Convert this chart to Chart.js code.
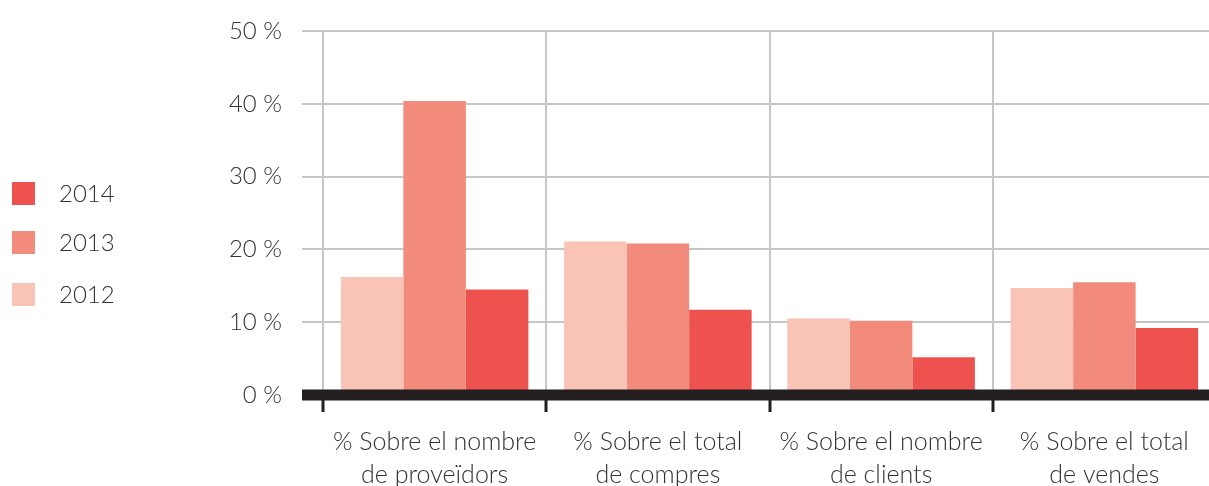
<!DOCTYPE html>
<html>
<head>
<meta charset="utf-8">
<script src="https://cdn.jsdelivr.net/npm/chart.js@4"></script>
<style>
  html, body { margin: 0; padding: 0; background: #fff; overflow: hidden; }
  #wrap { position: relative; width: 1230px; height: 486px; }
  #legend { position: absolute; left: 12px; top: 0; font-family: Lato, "Open Sans", sans-serif; font-weight: 300; font-size: 24px; color: #333; }
  .li { position: absolute; left: 0; height: 23px; white-space: nowrap; }
  .sw { position: absolute; left: 0; top: 0; width: 23px; height: 23px; }
  .lt { position: absolute; left: 47px; top: -3px; line-height: 28px; }
</style>
</head>
<body>
<div id="wrap">
  <canvas id="c" width="1230" height="486"></canvas>
  <div id="legend"></div>
</div>
<script>
const categories = [
  ["% Sobre el nombre", "de proveïdors"],
  ["% Sobre el total", "de compres"],
  ["% Sobre el nombre", "de clients"],
  ["% Sobre el total", "de vendes"]
];
const seriesNames = ["2012", "2013", "2014"];
const values2012 = [16.2, 21.1, 10.5, 14.7];
const values2013 = [40.4, 20.8, 10.2, 15.5];
const values2014 = [14.5, 11.7, 5.2, 9.2];
const yTicks = [0, 10, 20, 30, 40, 50];
const colors = ["#f9c3b5", "#f28b7b", "#ee524f"];

const seriesValues = [values2012, values2013, values2014];
const FONT = 'Lato, "Open Sans", sans-serif';

// HTML legend (reversed order: 2014, 2013, 2012)
const legendTops = [182, 231, 283];
const legend = document.getElementById('legend');
[2, 1, 0].forEach((idx, i) => {
  const li = document.createElement('div');
  li.className = 'li';
  li.style.top = legendTops[i] + 'px';
  li.innerHTML = '<div class="sw" style="background:' + colors[idx] + '"></div><div class="lt">' + seriesNames[idx] + '</div>';
  legend.appendChild(li);
});

const baseline = {
  id: 'baseline',
  afterDatasetsDraw(chart) {
    const ctx = chart.ctx;
    const y = chart.scales.y.getPixelForValue(0);
    ctx.save();
    ctx.fillStyle = '#231f20';
    ctx.fillRect(302, y - 5.5, chart.width - 302, 11);
    ctx.restore();
  }
};

new Chart(document.getElementById('c'), {
  type: 'bar',
  data: {
    labels: categories,
    datasets: seriesNames.map((n, i) => ({
      label: n,
      data: seriesValues[i],
      backgroundColor: colors[i],
      borderWidth: 0,
      categoryPercentage: 0.84,
      barPercentage: 1.0
    }))
  },
  options: {
    responsive: false,
    animation: false,
    layout: { padding: { left: 0, right: 14, top: 31, bottom: 0 } },
    plugins: { legend: { display: false }, tooltip: { enabled: false } },
    scales: {
      x: {
        offset: true,
        grid: {
          offset: true,
          color: '#c6c6c6',
          lineWidth: 2,
          tickLength: 17,
          tickColor: '#231f20',
          tickWidth: 3,
          drawOnChartArea: true
        },
        border: { display: false },
        ticks: {
          color: '#333',
          font: { family: FONT, size: 25, weight: 300, lineHeight: 1.3 },
          padding: 14,
          maxRotation: 0,
          autoSkip: false
        },
        afterFit(scale) { scale.height = 91; }
      },
      y: {
        min: 0,
        max: 50,
        afterBuildTicks(scale) { scale.ticks = yTicks.map(v => ({ value: v })); },
        grid: {
          color: '#c6c6c6',
          lineWidth: 2,
          tickLength: 21,
          tickColor: '#c6c6c6'
        },
        border: { display: false },
        ticks: {
          color: '#333',
          font: { family: FONT, size: 24, weight: 300, lineHeight: 0.9 },
          padding: 20,
          callback: v => v + ' %'
        },
        afterFit(scale) { scale.width = 323; }
      }
    }
  },
  plugins: [baseline]
});
</script>
</body>
</html>
